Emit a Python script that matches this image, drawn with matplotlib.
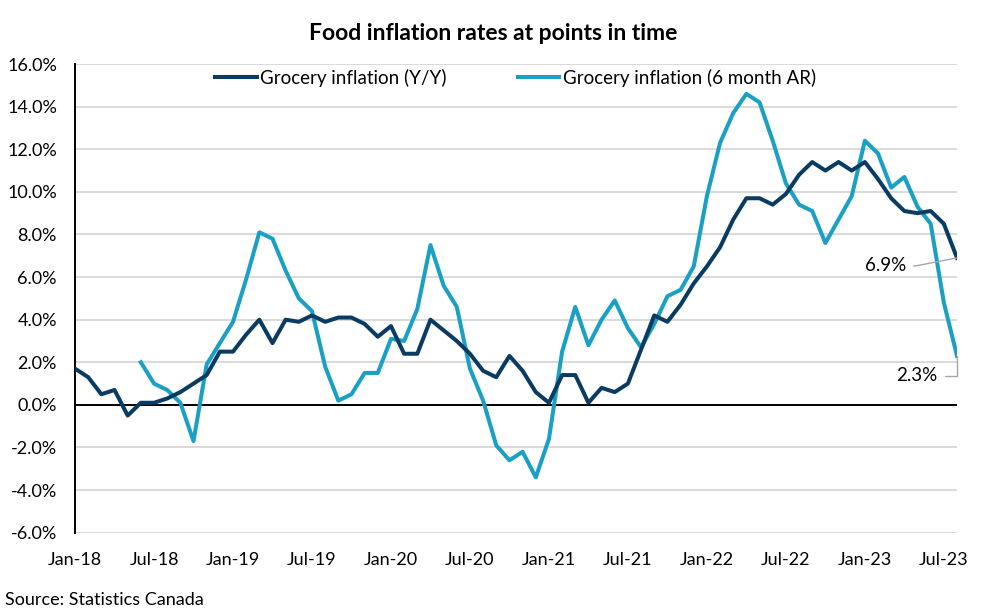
# Food inflation rates at points in time - grocery Y/Y vs 6 month annualized rate

import matplotlib
matplotlib.use('Agg')
import matplotlib.pyplot as plt
import numpy as np
import pandas as pd

# monthly, Jan-2018 .. Aug-2023
months = pd.date_range('2018-01-01', '2023-08-01', freq='MS')

# grocery inflation, year over year (%)
yoy = [1.7, 1.3, 0.5, 0.7, -0.5, 0.1, 0.1, 0.3, 0.6, 1.0,
       1.4, 2.5, 2.5, 3.3, 4.0, 2.9, 4.0, 3.9, 4.2, 3.9,
       4.1, 4.1, 3.8, 3.2, 3.7, 2.4, 2.4, 4.0, 3.5, 3.0,
       2.4, 1.6, 1.3, 2.3, 1.6, 0.6, 0.1, 1.4, 1.4, 0.1,
       0.8, 0.6, 1.0, 2.6, 4.2, 3.9, 4.7, 5.7, 6.5, 7.4,
       8.7, 9.7, 9.7, 9.4, 9.9, 10.8, 11.4, 11.0, 11.4, 11.0,
       11.4, 10.6, 9.7, 9.1, 9.0, 9.1, 8.5, 6.9]

# grocery inflation, 6 month annualized rate (%), starts Jun-2018
ar6 = [np.nan] * 5 + [
       2.0, 1.0, 0.7, 0.1, -1.7,
       1.9, 2.9, 3.9, 5.9, 8.1, 7.8, 6.3, 5.0, 4.4, 1.8,
       0.2, 0.5, 1.5, 1.5, 3.1, 3.0, 4.5, 7.5, 5.6, 4.6,
       1.7, 0.2, -1.9, -2.6, -2.2, -3.4, -1.6, 2.5, 4.6, 2.8,
       4.0, 4.9, 3.6, 2.7, 3.8, 5.1, 5.4, 6.5, 9.8, 12.3,
       13.7, 14.6, 14.2, 12.4, 10.4, 9.4, 9.1, 7.6, 8.7, 9.8,
       12.4, 11.8, 10.2, 10.7, 9.3, 8.5, 4.8, 2.3]

yticks = np.arange(-6, 17, 2)

dark = '#0A3B63'
light = '#1AA0C4'
font = ['Lato', 'DejaVu Sans']
plt.rcParams['font.family'] = font

x = np.arange(len(months))
tick_idx = x[::6]
tick_labels = [m.strftime('%b-%y') for m in months[::6]]

fig = plt.figure(figsize=(9.86, 6.14), dpi=100)
ax = fig.add_axes([0.0761, 0.1324, 0.8945, 0.7633])

# grid and zero line
for v in yticks:
    ax.axhline(v, color='#D9D9D9', lw=1.4, zorder=0)
ax.axhline(0, color='black', lw=1.4, zorder=1)

ax.plot(x, yoy, color=dark, lw=2.9, label='Grocery inflation (Y/Y)', zorder=3)
ax.plot(x, ar6, color=light, lw=2.9, label='Grocery inflation (6 month AR)', zorder=2)

ax.set_xlim(x[0], x[-1])
ax.set_ylim(yticks[0], yticks[-1])
ax.set_yticks(yticks)
ax.set_yticklabels(['%.1f%%' % v for v in yticks])
ax.set_xticks(tick_idx)
ax.set_xticklabels(tick_labels)
ax.tick_params(axis='y', length=0, pad=13, labelsize=13)
ax.tick_params(axis='x', length=0, pad=14, labelsize=13)

for s in ['top', 'right', 'bottom']:
    ax.spines[s].set_visible(False)
ax.spines['left'].set_linewidth(1.4)
ax.spines['left'].set_color('black')

# end-point labels
ax.annotate('%.1f%%' % yoy[-1], xy=(x[-1], yoy[-1]), xytext=(-71, -8),
            textcoords='offset pixels', ha='center', va='center', fontsize=13.5,
            arrowprops=dict(arrowstyle='-', color='#A6A6A6', lw=1,
                            relpos=(1, 0.5), shrinkA=3, shrinkB=0,
                            connectionstyle='angle,angleA=0,angleB=11,rad=0'))
ax.annotate('%.1f%%' % ar6[-1], xy=(x[-1], ar6[-1]), xytext=(-40, -20),
            textcoords='offset pixels', ha='center', va='center', fontsize=13.5,
            arrowprops=dict(arrowstyle='-', color='#A6A6A6', lw=1,
                            relpos=(1, 0.5), shrinkA=3, shrinkB=0,
                            connectionstyle='angle,angleA=0,angleB=90,rad=0'))

fig.legend(loc='center left', bbox_to_anchor=(0.209, 1 - 78 / 614), ncol=2,
           frameon=False, fontsize=13.5, borderpad=0, handlelength=2.2,
           handletextpad=0.2, columnspacing=3.8)

fig.text(0.5, 1 - 33 / 614, 'Food inflation rates at points in time',
         ha='center', va='center', fontsize=16.5, fontweight='bold')
fig.text(0.005, 1 - 600 / 614, 'Source: Statistics Canada',
         ha='left', va='center', fontsize=13)

fig.savefig('out.png', dpi=100)
